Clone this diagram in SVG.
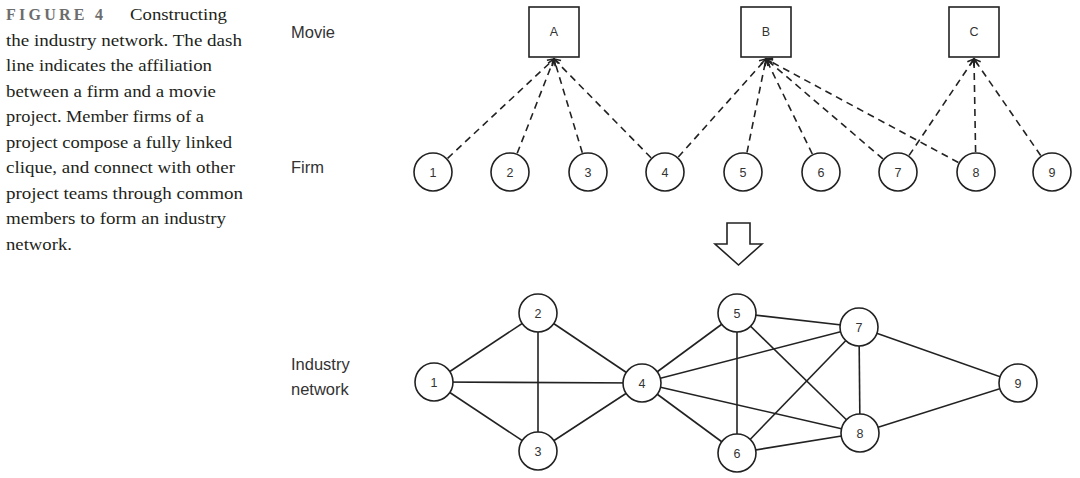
<svg xmlns="http://www.w3.org/2000/svg" width="1080" height="478" viewBox="0 0 1080 478">
<defs>
<marker id="oa" markerUnits="userSpaceOnUse" markerWidth="12" markerHeight="12" viewBox="-8 -6 10 12" refX="0" refY="0" orient="auto">
<path d="M-6,-4 L0,0 L-6,4" fill="none" stroke="#222" stroke-width="1.6"/>
</marker>
</defs>
<style>
.cap{font-family:"Liberation Serif",serif;font-size:17.5px;fill:#231f20}
.fig{font-family:"Liberation Serif",serif;font-size:16px;font-weight:bold;fill:#6d6d6d}
.lbl{font-family:"Liberation Sans",Arial,sans-serif;font-size:16.5px;fill:#333}
.nd{fill:#fff;stroke:#222;stroke-width:1.6}
.nt{font-family:"Liberation Sans",Arial,sans-serif;font-size:12.5px;fill:#333;text-anchor:middle}
.dash{stroke:#222;stroke-width:1.6;stroke-dasharray:7 5;fill:none;marker-end:url(#oa)}
.edge{stroke:#222;stroke-width:1.6}
</style>
<rect width="1080" height="478" fill="#fff"/>
<g id="caption">
<text class="fig" x="6" y="20" textLength="97" lengthAdjust="spacing">FIGURE 4</text>
<text class="cap" x="130" y="20" textLength="97" lengthAdjust="spacingAndGlyphs">Constructing</text>
<text class="cap" x="6" y="46" textLength="236" lengthAdjust="spacingAndGlyphs">the industry network. The dash</text>
<text class="cap" x="6" y="71" textLength="206" lengthAdjust="spacingAndGlyphs">line indicates the affiliation</text>
<text class="cap" x="6" y="97" textLength="210" lengthAdjust="spacingAndGlyphs">between a firm and a movie</text>
<text class="cap" x="6" y="122" textLength="198" lengthAdjust="spacingAndGlyphs">project. Member firms of a</text>
<text class="cap" x="6" y="148" textLength="226" lengthAdjust="spacingAndGlyphs">project compose a fully linked</text>
<text class="cap" x="6" y="173" textLength="229" lengthAdjust="spacingAndGlyphs">clique, and connect with other</text>
<text class="cap" x="6" y="199" textLength="237" lengthAdjust="spacingAndGlyphs">project teams through common</text>
<text class="cap" x="6" y="224" textLength="220" lengthAdjust="spacingAndGlyphs">members to form an industry</text>
<text class="cap" x="6" y="250" textLength="66" lengthAdjust="spacingAndGlyphs">network.</text>
</g>
<g id="row-labels">
<text class="lbl" x="291" y="38">Movie</text>
<text class="lbl" x="291" y="173">Firm</text>
<text class="lbl" x="291" y="370">Industry</text>
<text class="lbl" x="291" y="395">network</text>
</g>
<g id="connectors">
<line class="dash" x1="447.6" y1="158.3" x2="554" y2="59"/>
<line class="dash" x1="517.2" y1="153.3" x2="554" y2="59"/>
<line class="dash" x1="582.3" y1="152.8" x2="554" y2="59"/>
<line class="dash" x1="651" y1="157.7" x2="554" y2="59"/>
<line class="dash" x1="678.3" y1="157" x2="766" y2="59"/>
<line class="dash" x1="747" y1="152.4" x2="766" y2="59"/>
<line class="dash" x1="812.3" y1="154" x2="766" y2="59"/>
<line class="dash" x1="882.9" y1="158.9" x2="766" y2="59"/>
<line class="dash" x1="958.4" y1="162.5" x2="766" y2="59"/>
<line class="dash" x1="909.1" y1="155.4" x2="974" y2="59"/>
<line class="dash" x1="975.6" y1="152" x2="974" y2="59"/>
<line class="dash" x1="1040.7" y1="155.5" x2="974" y2="59"/>
<line class="edge" x1="434" y1="382" x2="538" y2="313"/>
<line class="edge" x1="434" y1="382" x2="538" y2="451"/>
<line class="edge" x1="434" y1="382" x2="642" y2="383"/>
<line class="edge" x1="538" y1="313" x2="538" y2="451"/>
<line class="edge" x1="538" y1="313" x2="642" y2="383"/>
<line class="edge" x1="538" y1="451" x2="642" y2="383"/>
<line class="edge" x1="642" y1="383" x2="737" y2="313"/>
<line class="edge" x1="642" y1="383" x2="737" y2="453"/>
<line class="edge" x1="642" y1="383" x2="859" y2="327"/>
<line class="edge" x1="642" y1="383" x2="860" y2="433"/>
<line class="edge" x1="737" y1="313" x2="737" y2="453"/>
<line class="edge" x1="737" y1="313" x2="859" y2="327"/>
<line class="edge" x1="737" y1="313" x2="860" y2="433"/>
<line class="edge" x1="737" y1="453" x2="859" y2="327"/>
<line class="edge" x1="737" y1="453" x2="860" y2="433"/>
<line class="edge" x1="859" y1="327" x2="860" y2="433"/>
<line class="edge" x1="859" y1="327" x2="1018" y2="383"/>
<line class="edge" x1="860" y1="433" x2="1018" y2="383"/>
</g>
<g id="movie-A"><rect class="nd" x="529" y="7" width="50" height="50"/><text class="nt" x="554" y="36">A</text></g>
<g id="movie-B"><rect class="nd" x="741" y="7" width="50" height="50"/><text class="nt" x="766" y="36">B</text></g>
<g id="movie-C"><rect class="nd" x="949" y="7" width="50" height="50"/><text class="nt" x="974" y="36">C</text></g>
<g id="firm-1"><circle class="nd" cx="433" cy="172" r="19"/><text class="nt" x="433" y="176.5">1</text></g>
<g id="firm-2"><circle class="nd" cx="510" cy="172" r="19"/><text class="nt" x="510" y="176.5">2</text></g>
<g id="firm-3"><circle class="nd" cx="588" cy="172" r="19"/><text class="nt" x="588" y="176.5">3</text></g>
<g id="firm-4"><circle class="nd" cx="665" cy="172" r="19"/><text class="nt" x="665" y="176.5">4</text></g>
<g id="firm-5"><circle class="nd" cx="743" cy="172" r="19"/><text class="nt" x="743" y="176.5">5</text></g>
<g id="firm-6"><circle class="nd" cx="821" cy="172" r="19"/><text class="nt" x="821" y="176.5">6</text></g>
<g id="firm-7"><circle class="nd" cx="898" cy="172" r="19"/><text class="nt" x="898" y="176.5">7</text></g>
<g id="firm-8"><circle class="nd" cx="976" cy="172" r="19"/><text class="nt" x="976" y="176.5">8</text></g>
<g id="firm-9"><circle class="nd" cx="1052" cy="172" r="19"/><text class="nt" x="1052" y="176.5">9</text></g>
<g id="down-arrow"><path d="M727,223 L750,223 L750,244 L762,244 L738.5,265 L715,244 L727,244 Z" fill="#fff" stroke="#222" stroke-width="1.6"/></g>
<g id="net-1"><circle class="nd" cx="434" cy="382" r="19"/><text class="nt" x="434" y="386.5">1</text></g>
<g id="net-2"><circle class="nd" cx="538" cy="313" r="19"/><text class="nt" x="538" y="317.5">2</text></g>
<g id="net-3"><circle class="nd" cx="538" cy="451" r="19"/><text class="nt" x="538" y="455.5">3</text></g>
<g id="net-4"><circle class="nd" cx="642" cy="383" r="19"/><text class="nt" x="642" y="387.5">4</text></g>
<g id="net-5"><circle class="nd" cx="737" cy="313" r="19"/><text class="nt" x="737" y="317.5">5</text></g>
<g id="net-6"><circle class="nd" cx="737" cy="453" r="19"/><text class="nt" x="737" y="457.5">6</text></g>
<g id="net-7"><circle class="nd" cx="859" cy="327" r="19"/><text class="nt" x="859" y="331.5">7</text></g>
<g id="net-8"><circle class="nd" cx="860" cy="433" r="19"/><text class="nt" x="860" y="437.5">8</text></g>
<g id="net-9"><circle class="nd" cx="1018" cy="383" r="19"/><text class="nt" x="1018" y="387.5">9</text></g>
</svg>
